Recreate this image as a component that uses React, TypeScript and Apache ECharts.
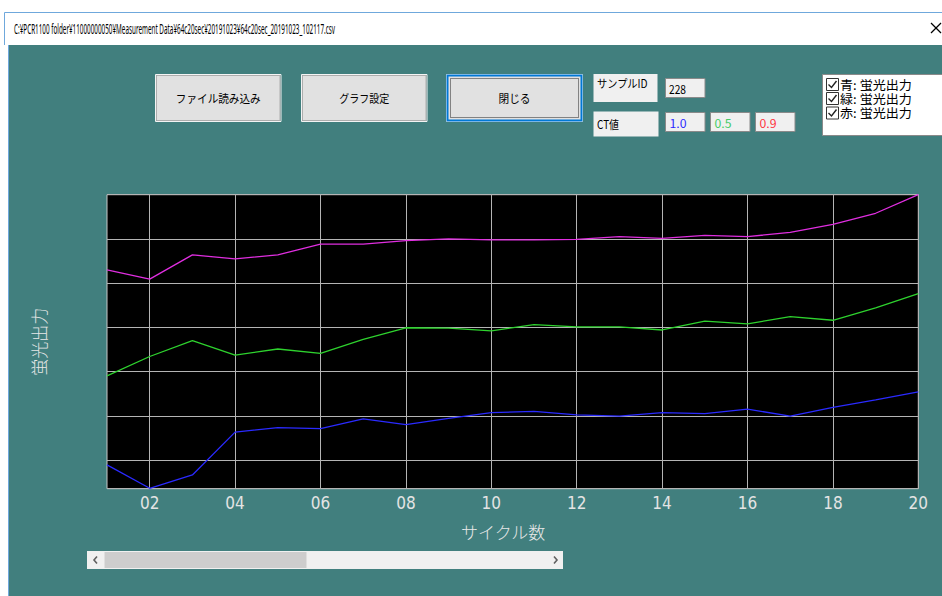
import React, { useEffect, useRef } from 'react';
import * as echarts from 'echarts';

// ---- data ----
const cycles = ['01', '02', '03', '04', '05', '06', '07', '08', '09', '10', '11', '12', '13', '14', '15', '16', '17', '18', '19', '20'];
const blueValues = [54, 1, 31, 128, 138, 136, 158, 145, 159, 172, 175, 167, 164, 172, 170, 180, 164, 184, 201, 219];
const greenValues = [255, 299, 335, 302, 316, 306, 338, 364, 363, 357, 371, 366, 366, 359, 379, 373, 389, 381, 409, 441];
const redValues = [495, 474, 529, 520, 529, 553, 553, 561, 565, 563, 563, 564, 570, 566, 573, 570, 580, 598, 623, 665];
const yMin = 0;
const yMax = 665;
const gridStep = 100;
const titleText = 'C:¥PCR1100 folder¥11000000050¥Measurement Data¥64c20sec¥20191023¥64c20sec_20191023_102117.csv';
const buttonLabels = ['ファイル読み込み', 'グラフ設定', '閉じる'];
const sampleIdLabel = 'サンプルID';
const sampleId = '228';
const ctLabel = 'CT値';
const ctValues = ['1.0', '0.5', '0.9'];
const legendItems = ['青: 蛍光出力', '緑: 蛍光出力', '赤: 蛍光出力'];
const xAxisName = 'サイクル数';
const yAxisName = '蛍光出力';

const TEAL = '#417f7e';
const JP = "'Noto Sans CJK JP', 'Noto Sans', sans-serif";
const NARROW = "'Liberation Sans Narrow', 'DejaVu Sans Condensed', 'Roboto Condensed', Roboto, sans-serif";

function fitScale(text: string, font: string, width: number): number {
  const ctx = document.createElement('canvas').getContext('2d');
  if (!ctx) return 1;
  ctx.font = font;
  const w = ctx.measureText(text).width;
  return w > 0 ? width / w : 1;
}

function txt(text: string, x: number, y: number, font: string, fill: string, align: string, width?: number): any {
  return {
    type: 'text',
    x,
    y,
    scaleX: width ? fitScale(text, font, width) : 1,
    z: 20,
    style: { text, font, fill, align, verticalAlign: 'middle' },
  };
}

function buildGraphic(): any[] {
  const g: any[] = [];
  // window chrome
  g.push({ type: 'rect', z: 1, shape: { x: 0, y: 0, width: 942, height: 45 }, style: { fill: '#ffffff' } });
  g.push({ type: 'rect', z: 1, shape: { x: 0, y: 0, width: 8, height: 596 }, style: { fill: '#ffffff' } });
  g.push({ type: 'line', z: 2, shape: { x1: 4.5, y1: 12.5, x2: 942, y2: 12.5 }, style: { stroke: '#6fa8dc', lineWidth: 1 } });
  g.push({ type: 'line', z: 2, shape: { x1: 4.5, y1: 12.5, x2: 4.5, y2: 45 }, style: { stroke: '#6fa8dc', lineWidth: 1 } });
  g.push({ type: 'line', z: 2, shape: { x1: 8.5, y1: 45, x2: 8.5, y2: 596 }, style: { stroke: '#6fa8dc', lineWidth: 1 } });
  g.push(txt(titleText, 14, 28, "14px 'Noto Sans', sans-serif", '#000000', 'left', 321));
  g.push({ type: 'line', z: 2, shape: { x1: 931, y1: 23, x2: 941, y2: 33 }, style: { stroke: '#000', lineWidth: 1.2 } });
  g.push({ type: 'line', z: 2, shape: { x1: 941, y1: 23, x2: 931, y2: 33 }, style: { stroke: '#000', lineWidth: 1.2 } });

  // buttons
  const btns = [
    { x: 156.5, w: 123.5, tw: 85 },
    { x: 302.5, w: 123.5, tw: 50 },
    { x: 447.5, w: 134, tw: 32 },
  ];
  btns.forEach((b, i) => {
    const focused = i === 2;
    g.push({ type: 'rect', z: 2, shape: { x: b.x - 1, y: 74.5, width: b.w + 2, height: 47 }, style: { fill: 'none', stroke: '#f4f4f4', lineWidth: 1 } });
    g.push({
      type: 'rect', z: 3,
      shape: { x: b.x, y: 75.5, width: b.w, height: 45 },
      style: { fill: '#e1e1e1', stroke: focused ? '#0078d7' : '#adadad', lineWidth: focused ? 2 : 1 },
    });
    if (focused) {
      g.push({ type: 'rect', z: 4, shape: { x: b.x + 3, y: 78.5, width: b.w - 6, height: 39 }, style: { fill: 'none', stroke: '#222', lineWidth: 1, lineDash: [1, 1] } });
    }
    g.push(txt(buttonLabels[i], b.x + b.w / 2, 98, `11.5px ${JP}`, '#000000', 'center', b.tw));
  });

  // sample id / CT boxes
  g.push({ type: 'rect', z: 2, shape: { x: 593.5, y: 74, width: 64, height: 28 }, style: { fill: '#f0f0f0' } });
  g.push(txt(sampleIdLabel, 597, 83, `11.5px ${JP}`, '#000000', 'left', 51));
  g.push({ type: 'rect', z: 2, shape: { x: 665.5, y: 78.5, width: 39.5, height: 19 }, style: { fill: '#f0f0f0', stroke: '#8a8a8a', lineWidth: 1 } });
  g.push(txt(sampleId, 669, 88.5, `11.5px ${JP}`, '#000000', 'left', 17));
  g.push({ type: 'rect', z: 2, shape: { x: 593.5, y: 111.5, width: 65, height: 25 }, style: { fill: '#f0f0f0' } });
  g.push(txt(ctLabel, 597, 124, `11.5px ${JP}`, '#000000', 'left', 22));
  const ctColors = ['#2a2aff', '#44cc66', '#ff3340'];
  ctValues.forEach((v, i) => {
    const x = 665.5 + i * 45;
    g.push({ type: 'rect', z: 2, shape: { x, y: 112.5, width: 39.5, height: 19 }, style: { fill: '#f0f0f0', stroke: '#8a8a8a', lineWidth: 1 } });
    g.push(txt(v, x + 4, 122.5, `11.5px ${JP}`, ctColors[i], 'left', 17));
  });

  // checkbox legend panel
  g.push({ type: 'rect', z: 2, shape: { x: 822.5, y: 74.5, width: 130, height: 61 }, style: { fill: '#ffffff', stroke: '#8a8a8a', lineWidth: 1 } });
  const rows = [84.5, 98.5, 113];
  legendItems.forEach((t, i) => {
    const cy = rows[i];
    g.push({ type: 'rect', z: 3, shape: { x: 826.5, y: cy - 6, width: 12, height: 12 }, style: { fill: '#ffffff', stroke: '#333333', lineWidth: 1 } });
    g.push({ type: 'polyline', z: 4, shape: { points: [[828.5, cy], [831.5, cy + 3], [836.5, cy - 3.5]] }, style: { stroke: '#222222', lineWidth: 1.4, fill: 'none' } });
    g.push(txt(t, 840, cy, `12.5px ${JP}`, '#000000', 'left', 72));
  });

  // scrollbar
  g.push({ type: 'rect', z: 2, shape: { x: 87, y: 551, width: 476, height: 18 }, style: { fill: '#f0f0f0' } });
  g.push({ type: 'rect', z: 3, shape: { x: 104.5, y: 552, width: 202, height: 16 }, style: { fill: '#cdcdcd' } });
  g.push({ type: 'polyline', z: 4, shape: { points: [[97, 556.5], [94, 560], [97, 563.5]] }, style: { stroke: '#606060', lineWidth: 1.6, fill: 'none' } });
  g.push({ type: 'polyline', z: 4, shape: { points: [[554, 556.5], [557, 560], [554, 563.5]] }, style: { stroke: '#606060', lineWidth: 1.6, fill: 'none' } });
  return g;
}

export default function App() {
  const ref = useRef<HTMLDivElement>(null);
  useEffect(() => {
    document.body.style.margin = '0';
    if (!ref.current) return;
    const chart = echarts.init(ref.current, undefined, { renderer: 'svg' });
    const everyOther = (i: number) => i % 2 === 1;
    chart.setOption({
      animation: false,
      backgroundColor: TEAL,
      grid: {
        left: 107,
        right: 23.7,
        top: 194.7,
        bottom: 107.3,
        show: true,
        backgroundColor: '#000000',
        borderColor: '#c8c8c8',
        borderWidth: 1,
        containLabel: false,
      },
      xAxis: {
        type: 'category',
        data: cycles,
        boundaryGap: false,
        axisLine: { show: false },
        axisTick: { show: false },
        axisLabel: { interval: everyOther, color: '#e4e4e4', fontSize: 17, fontFamily: NARROW, fontWeight: 300, margin: 6 },
        splitLine: { show: true, interval: everyOther, lineStyle: { color: '#b4b4b4', width: 1 } },
        name: xAxisName,
        nameLocation: 'middle',
        nameGap: 34,
        nameTextStyle: { color: '#e8e8e8', fontSize: 17, fontFamily: JP, fontWeight: 300, padding: [0, 19, 0, 0] },
      },
      yAxis: [
        {
          type: 'value',
          min: yMin,
          max: yMax,
          axisLine: { show: false },
          axisTick: { show: false },
          axisLabel: { show: false },
          splitLine: { show: false },
          name: yAxisName,
          nameLocation: 'middle',
          nameGap: 60,
          nameTextStyle: { color: '#e8e8e8', fontSize: 17, fontFamily: JP, fontWeight: 300 },
        },
        {
          type: 'value',
          inverse: true,
          position: 'right',
          min: 0,
          max: yMax - yMin,
          interval: gridStep,
          axisLine: { show: false },
          axisTick: { show: false },
          axisLabel: { show: false },
          splitLine: { show: true, lineStyle: { color: '#b4b4b4', width: 1 } },
        },
      ],
      series: [
        { name: '赤', type: 'line', data: redValues, yAxisIndex: 0, showSymbol: false, symbol: 'none', lineStyle: { color: '#e02ee0', width: 1.3 }, itemStyle: { color: '#e02ee0' } },
        { name: '緑', type: 'line', data: greenValues, yAxisIndex: 0, showSymbol: false, symbol: 'none', lineStyle: { color: '#2ed22e', width: 1.3 }, itemStyle: { color: '#2ed22e' } },
        { name: '青', type: 'line', data: blueValues, yAxisIndex: 0, showSymbol: false, symbol: 'none', lineStyle: { color: '#2a2aff', width: 1.3 }, itemStyle: { color: '#2a2aff' } },
      ],
      graphic: buildGraphic(),
    });
    return () => chart.dispose();
  }, []);
  return <div ref={ref} style={{ position: 'absolute', left: 0, top: 0, width: 942, height: 596 }} />;
}
